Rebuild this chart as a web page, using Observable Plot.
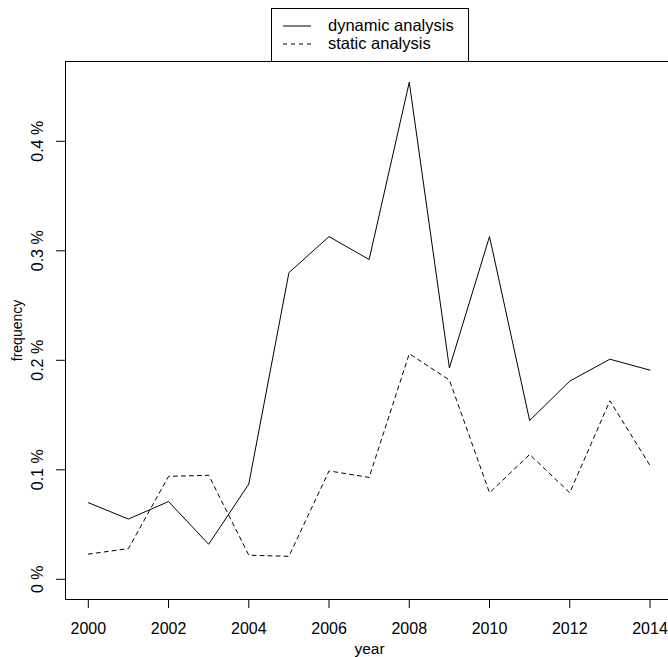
<!DOCTYPE html>
<html>
<head>
<meta charset="utf-8">
<script src="https://cdn.jsdelivr.net/npm/d3@7"></script>
<script src="https://cdn.jsdelivr.net/npm/@observablehq/plot@0.6"></script>
<style>
  html, body { margin: 0; padding: 0; background: white; overflow: hidden; }
  #wrap { position: relative; width: 668px; height: 657px; }
  #legend { position: absolute; left: 0; top: 0; }
</style>
</head>
<body>
<div id="wrap"></div>
<script>
const years = [2000, 2001, 2002, 2003, 2004, 2005, 2006, 2007, 2008, 2009, 2010, 2011, 2012, 2013, 2014];
const dynamicAnalysis = [0.070, 0.055, 0.071, 0.032, 0.087, 0.280, 0.313, 0.292, 0.454, 0.193, 0.313, 0.145, 0.181, 0.201, 0.191];
const staticAnalysis = [0.023, 0.028, 0.094, 0.095, 0.022, 0.021, 0.099, 0.093, 0.206, 0.182, 0.079, 0.114, 0.079, 0.163, 0.104];
const xTicks = [2000, 2002, 2004, 2006, 2008, 2010, 2012, 2014];
const yTicks = [0, 0.1, 0.2, 0.3, 0.4];
const yTickLabels = ["0 %", "0.1 %", "0.2 %", "0.3 %", "0.4 %"];
const seriesNames = ["dynamic analysis", "static analysis"];

const FONT = "'Liberation Sans', Arial, Helvetica, sans-serif";

const rows = [];
years.forEach((yr, i) => {
  rows.push({year: yr, value: dynamicAnalysis[i], series: seriesNames[0]});
  rows.push({year: yr, value: staticAnalysis[i], series: seriesNames[1]});
});

const chart = Plot.plot({
  width: 668,
  height: 657,
  marginLeft: 65,
  marginTop: 61,
  marginBottom: 58,
  marginRight: -5,
  style: {fontFamily: FONT, fontSize: "16px", background: "white", color: "black", overflow: "hidden"},
  x: {domain: [2000, 2014], range: [87.8, 649.5], ticks: xTicks, tickSize: 9, tickPadding: 14, tickFormat: d => String(d), label: null},
  y: {domain: [0, 0.4], range: [578.8, 140.8], ticks: yTicks, tickSize: 9, tickFormat: () => "", label: null},
  marks: [
    Plot.frame({stroke: "black", strokeWidth: 1}),
    Plot.line(rows.filter(d => d.series === seriesNames[0]), {x: "year", y: "value", stroke: "black", strokeWidth: 1}),
    Plot.line(rows.filter(d => d.series === seriesNames[1]), {x: "year", y: "value", stroke: "black", strokeWidth: 1, strokeDasharray: "4,4"}),
    Plot.text(yTicks, {y: d => d, text: (d, i) => yTickLabels[i], frameAnchor: "left", rotate: -90, dx: -22.5, lineAnchor: "bottom", textAnchor: "middle", fill: "black"}),
    Plot.text(["frequency"], {text: d => d, frameAnchor: "left", rotate: -90, dx: -43.5, lineAnchor: "bottom", textAnchor: "middle", fill: "black", fontSize: 14}),
    Plot.text(["year"], {text: d => d, frameAnchor: "bottom", dy: 54.5, lineAnchor: "bottom", textAnchor: "middle", fill: "black", fontSize: 15.5})
  ]
});

const wrap = document.getElementById("wrap");
wrap.appendChild(chart);

// Legend overlay (R-style boxed legend)
const ns = "http://www.w3.org/2000/svg";
const leg = document.createElementNS(ns, "svg");
leg.setAttribute("id", "legend");
leg.setAttribute("width", 668);
leg.setAttribute("height", 70);
leg.style.fontFamily = FONT;
leg.style.fontSize = "16.5px";
const box = document.createElementNS(ns, "rect");
box.setAttribute("x", 271.5); box.setAttribute("y", 8.5);
box.setAttribute("width", 197); box.setAttribute("height", 53);
box.setAttribute("fill", "white"); box.setAttribute("stroke", "black");
leg.appendChild(box);
const dashes = [null, "4,4"];
const lineY = [26, 44];
const textY = [30.5, 48.5];
seriesNames.forEach((name, i) => {
  const ln = document.createElementNS(ns, "line");
  ln.setAttribute("x1", 283); ln.setAttribute("x2", 311);
  ln.setAttribute("y1", lineY[i]); ln.setAttribute("y2", lineY[i]);
  ln.setAttribute("stroke", "black");
  if (dashes[i]) ln.setAttribute("stroke-dasharray", dashes[i]);
  leg.appendChild(ln);
  const t = document.createElementNS(ns, "text");
  t.setAttribute("x", 328); t.setAttribute("y", textY[i]);
  t.setAttribute("fill", "black");
  t.textContent = name;
  leg.appendChild(t);
});
wrap.appendChild(leg);
</script>
</body>
</html>
